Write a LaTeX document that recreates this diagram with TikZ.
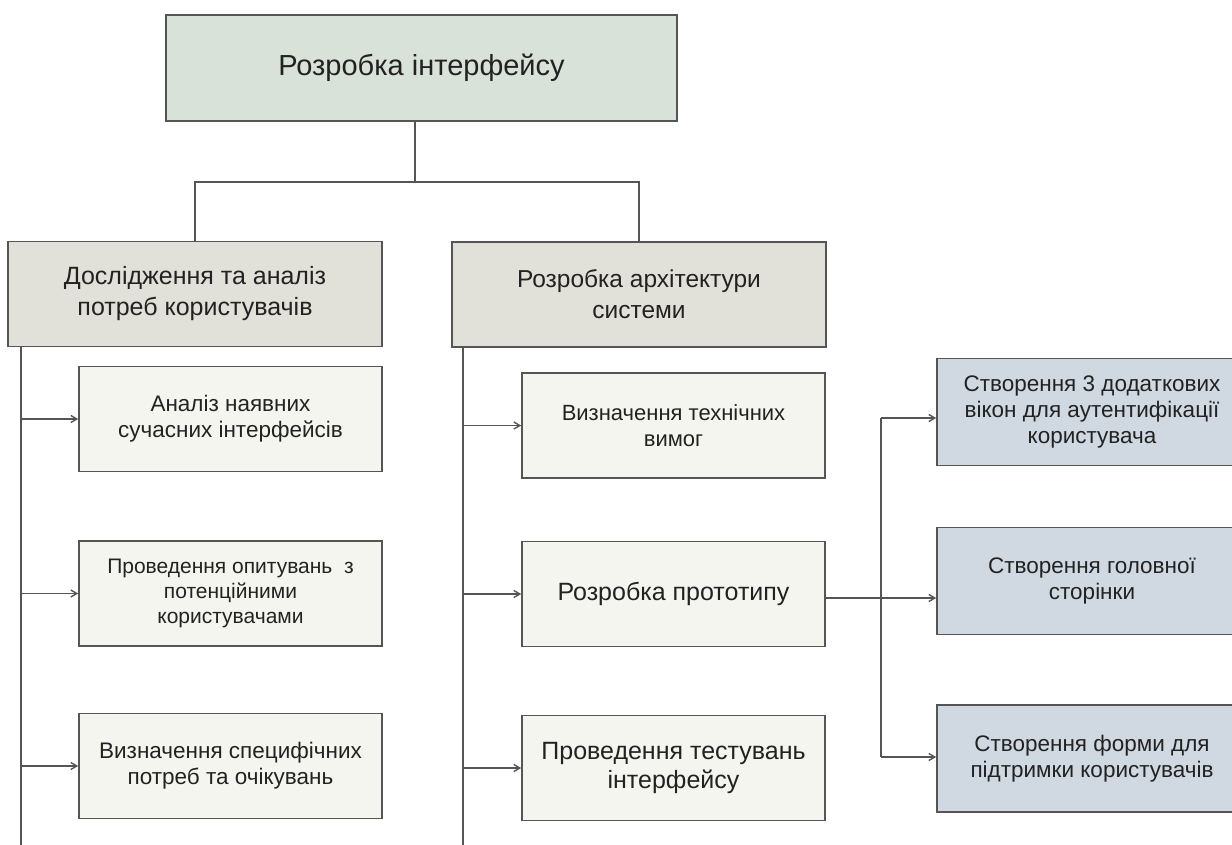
\documentclass[tikz,border=0pt]{standalone}
\usepackage{fontspec}
\setmainfont{Liberation Sans}
\usetikzlibrary{arrows.meta}
\definecolor{rootfill}{HTML}{D9E2D8}
\definecolor{phasefill}{HTML}{E2E1D9}
\definecolor{taskfill}{HTML}{F5F5F0}
\definecolor{subfill}{HTML}{D0D9E1}
\definecolor{edgegray}{HTML}{555555}
\definecolor{textgray}{HTML}{222222}
\begin{document}
\begin{tikzpicture}[x=1pt,y=-1pt]
\tikzset{
  box/.style={rectangle,draw=edgegray,line width=1.6pt,align=center,inner sep=2pt,anchor=center,text=textgray},
  rootbox/.style={box,fill=rootfill,minimum width=511pt,minimum height=106pt,font=\fontsize{29}{34}\selectfont},
  phasebox/.style={box,fill=phasefill,minimum width=374pt,minimum height=105pt,font=\fontsize{24.5}{31}\selectfont},
  taskbox/.style={box,fill=taskfill,minimum width=303pt,minimum height=105pt,font=\fontsize{22.5}{26}\selectfont},
  subbox/.style={box,fill=subfill,minimum width=310pt,minimum height=107pt,font=\fontsize{22.5}{26}\selectfont},
  link/.style={draw=edgegray,line width=1.4pt},
  arrowlink/.style={link,-{Straight Barb[length=6pt,width=7pt]}}
}
\useasboundingbox (0,0) rectangle (1232,845);
\node[rootbox] (n_root) at (421.5,68) {Розробка інтерфейсу};
\node[phasebox,font=\fontsize{25}{31}\selectfont] (n_research) at (195,294) {Дослідження та аналіз\\потреб користувачів};
\node[phasebox] (n_arch) at (639,294.5) {Розробка архітектури\\системи};
\node[taskbox] (n_survey) at (230.5,419) {Аналіз наявних\\сучасних інтерфейсів};
\node[taskbox,font=\fontsize{21}{25}\selectfont] (n_poll) at (230.5,593.5) {Проведення опитувань\ \ з\\потенційними\\користувачами};
\node[taskbox] (n_needs) at (230.5,766) {Визначення специфічних\\потреб та очікувань};
\node[taskbox,font=\fontsize{22}{26}\selectfont] (n_reqs) at (673.5,425.5) {Визначення технічних\\вимог};
\node[taskbox,font=\fontsize{25}{29}\selectfont] (n_proto) at (673.5,594) {Розробка прототипу};
\node[taskbox,font=\fontsize{25}{29}\selectfont] (n_test) at (673.5,768) {Проведення тестувань\\інтерфейсу};
\node[subbox] (n_auth) at (1092,412) {Створення 3 додаткових\\вікон для аутентифікації\\користувача};
\node[subbox] (n_home) at (1092,581) {Створення головної\\сторінки};
\node[subbox] (n_help) at (1092,758.5) {Створення форми для\\підтримки користувачів};
\coordinate (c_hub) at (415,182);
\coordinate (c_lspine) at (21,845);
\coordinate (c_mspine) at (463,845);
\coordinate (c_fork) at (881,598);
\coordinate (c_forktop) at (881,418);
\coordinate (c_forkbot) at (881,757);
\draw[link] (n_root.south -| c_hub) -- (c_hub);
\draw[link] (n_research.north) |- (c_hub) -| (n_arch.north);
\draw[link] (n_research.south -| c_lspine) -- (c_lspine);
\draw[link] (n_arch.south -| c_mspine) -- (c_mspine);
\draw[arrowlink] (n_survey.west -| c_lspine) -- (n_survey.west);
\draw[arrowlink] (n_poll.west -| c_lspine) -- (n_poll.west);
\draw[arrowlink] (n_needs.west -| c_lspine) -- (n_needs.west);
\draw[arrowlink] (n_reqs.west -| c_mspine) -- (n_reqs.west);
\draw[arrowlink] (n_proto.west -| c_mspine) -- (n_proto.west);
\draw[arrowlink] (n_test.west -| c_mspine) -- (n_test.west);
\draw[link] (n_proto.east |- c_fork) -- (c_fork);
\draw[link] (c_forktop) -- (c_forkbot);
\draw[arrowlink] (c_forktop) -- (n_auth.west |- c_forktop);
\draw[arrowlink] (c_fork) -- (n_home.west |- c_fork);
\draw[arrowlink] (c_forkbot) -- (n_help.west |- c_forkbot);
\end{tikzpicture}
\end{document}
